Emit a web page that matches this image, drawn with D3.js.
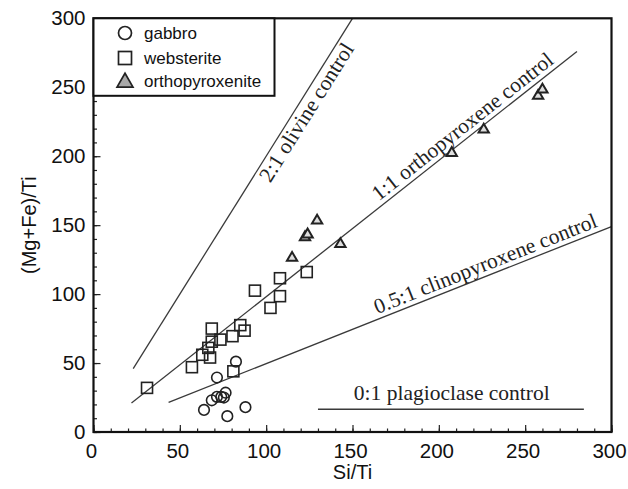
<!DOCTYPE html>
<html>
<head>
<meta charset="utf-8">
<script src="https://cdn.jsdelivr.net/npm/d3@7"></script>
<style>
  html, body { margin: 0; padding: 0; background: #fff; }
  svg { display: block; }
</style>
</head>
<body>
<svg id="chart" width="628" height="489"></svg>
<script>
// ---------------- data ----------------
const xTicks = [0, 50, 100, 150, 200, 250, 300];
const yTicks = [0, 50, 100, 150, 200, 250, 300];
const minorTicks = d3.range(0, 301, 10);

const seriesNames = ["gabbro", "websterite", "orthopyroxenite"];

const gabbroX = [64, 68.5, 71.5, 74, 76.5, 75.5, 77.5, 88, 71.5, 82.5];
const gabbroY = [16, 23, 25.5, 25.5, 28.5, 25, 11.5, 18, 39.5, 51];

const websteriteX = [31, 57, 63, 67.5, 66.5, 68.5, 68.5, 73.5, 80.5, 81, 85, 87.5, 93.5, 102.5, 108, 108, 123.5];
const websteriteY = [32, 47, 56, 54, 61, 65.5, 75, 67, 69.5, 44, 77.5, 73.5, 102.5, 90, 111.5, 98.5, 116];

const orthoX = [115, 122.5, 124, 129.5, 143, 207.5, 226, 257.5, 260];
const orthoY = [127, 142, 144, 154, 137, 203, 220, 244.5, 249];

// control lines: [x1, x2], [y1, y2]
const controlNames = ["2:1 olivine control", "1:1 orthopyroxene control", "0.5:1 clinopyroxene control", "0:1 plagioclase control"];
const controlX = [[23, 150], [22, 280], [43.5, 300], [130, 284]];
const controlY = [[46, 300], [21, 276], [21.5, 149], [16.5, 16.5]];
const controlLabelX = [118, 218, 229.5, 207.5];

// ---------------- layout ----------------
const svg = d3.select("#chart");
const x = d3.scaleLinear().domain([0, 300]).range([93.5, 611.5]);
const y = d3.scaleLinear().domain([0, 300]).range([432, 18.3]);

const sans = "'Liberation Sans', Arial, Helvetica, sans-serif";
const serif = "'Liberation Serif', 'Times New Roman', serif";

// control lines
const lineColor = "#3a3a3a";
controlNames.forEach((name, i) => {
  svg.append("line")
    .attr("x1", x(controlX[i][0])).attr("y1", y(controlY[i][0]))
    .attr("x2", x(controlX[i][1])).attr("y2", y(controlY[i][1]))
    .attr("stroke", lineColor).attr("stroke-width", 1.3);
});

// control labels
const labelDy = [18, -5, -5, -9];
controlNames.forEach((name, i) => {
  const x1 = controlX[i][0], x2 = controlX[i][1];
  const y1 = controlY[i][0], y2 = controlY[i][1];
  const lx = controlLabelX[i];
  const ly = y1 + (y2 - y1) * (lx - x1) / (x2 - x1);
  const ang = Math.atan2(y(y2) - y(y1), x(x2) - x(x1)) * 180 / Math.PI;
  svg.append("text")
    .attr("transform", `translate(${x(lx)},${y(ly)}) rotate(${ang})`)
    .attr("dy", labelDy[i])
    .attr("text-anchor", "middle")
    .attr("font-family", serif)
    .attr("font-size", 21.5)
    .attr("fill", "#222")
    .text(name);
});

// markers
const markStroke = "#222";
svg.append("g").selectAll("circle")
  .data(gabbroX.map((v, i) => [v, gabbroY[i]]))
  .join("circle")
  .attr("cx", d => x(d[0])).attr("cy", d => y(d[1])).attr("r", 5.3)
  .attr("fill", "none").attr("stroke", markStroke).attr("stroke-width", 1.6);

svg.append("g").selectAll("rect")
  .data(websteriteX.map((v, i) => [v, websteriteY[i]]))
  .join("rect")
  .attr("x", d => x(d[0]) - 5.5).attr("y", d => y(d[1]) - 5.5)
  .attr("width", 11).attr("height", 11)
  .attr("fill", "none").attr("stroke", markStroke).attr("stroke-width", 1.6);

const tri = d3.symbol().type(d3.symbolTriangle).size(46);
svg.append("g").selectAll("path")
  .data(orthoX.map((v, i) => [v, orthoY[i]]))
  .join("path")
  .attr("d", tri)
  .attr("transform", d => `translate(${x(d[0])},${y(d[1]) + 1})`)
  .attr("fill", "#dedede").attr("stroke", markStroke).attr("stroke-width", 2);

// axes
const axisB = svg.append("g").attr("transform", `translate(0,${y(0)})`)
  .call(d3.axisBottom(x).tickValues(xTicks).tickSize(-7).tickPadding(11).tickFormat(d3.format("d")));
const axisBm = svg.append("g").attr("transform", `translate(0,${y(0)})`)
  .call(d3.axisBottom(x).tickValues(minorTicks).tickSize(-3.5).tickFormat(""));
const axisL = svg.append("g").attr("transform", `translate(${x(0)},0)`)
  .call(d3.axisLeft(y).tickValues(yTicks).tickSize(-7).tickPadding(8).tickFormat(d3.format("d")));
const axisLm = svg.append("g").attr("transform", `translate(${x(0)},0)`)
  .call(d3.axisLeft(y).tickValues(minorTicks).tickSize(-3.5).tickFormat(""));

[axisB, axisBm, axisL, axisLm].forEach(g => {
  g.select(".domain").remove();
  g.selectAll(".tick line").attr("stroke", "#222").attr("stroke-width", 1.2);
  g.selectAll("text").attr("font-family", sans).attr("font-size", 20.5).attr("fill", "#111");
});
axisB.selectAll(".tick text").attr("dx", -2.5);

// frame
svg.append("rect")
  .attr("x", x(0)).attr("y", y(300))
  .attr("width", x(300) - x(0)).attr("height", y(0) - y(300))
  .attr("fill", "none").attr("stroke", "#111").attr("stroke-width", 2.2);

// legend
const leg = svg.append("g");
leg.append("rect")
  .attr("x", x(0)).attr("y", y(300))
  .attr("width", 181).attr("height", 77.5)
  .attr("fill", "#fff").attr("stroke", "#111").attr("stroke-width", 2);
const legY = [33, 58, 81];
const legMX = 125;
leg.append("circle").attr("cx", legMX).attr("cy", legY[0]).attr("r", 6.5)
  .attr("fill", "none").attr("stroke", "#222").attr("stroke-width", 1.7);
leg.append("rect").attr("x", legMX - 6.5).attr("y", legY[1] - 6.5).attr("width", 13).attr("height", 13)
  .attr("fill", "none").attr("stroke", "#222").attr("stroke-width", 1.7);
leg.append("path").attr("d", d3.symbol().type(d3.symbolTriangle).size(110))
  .attr("transform", `translate(${legMX},${legY[2] + 1.5})`)
  .attr("fill", "#a8a8a8").attr("stroke", "#222").attr("stroke-width", 1.7);
seriesNames.forEach((s, i) => {
  leg.append("text").attr("x", 144).attr("y", legY[i]).attr("dy", "0.35em")
    .attr("font-family", sans).attr("font-size", 17).attr("fill", "#111").text(s);
});

// axis titles
svg.append("text").attr("x", (x(0) + x(300)) / 2).attr("y", 479)
  .attr("text-anchor", "middle").attr("font-family", sans).attr("font-size", 20).attr("fill", "#111")
  .text("Si/Ti");
svg.append("text").attr("transform", `translate(36,${(y(0) + y(300)) / 2}) rotate(-90)`)
  .attr("text-anchor", "middle").attr("font-family", sans).attr("font-size", 20).attr("fill", "#111")
  .text("(Mg+Fe)/Ti");
</script>
</body>
</html>
